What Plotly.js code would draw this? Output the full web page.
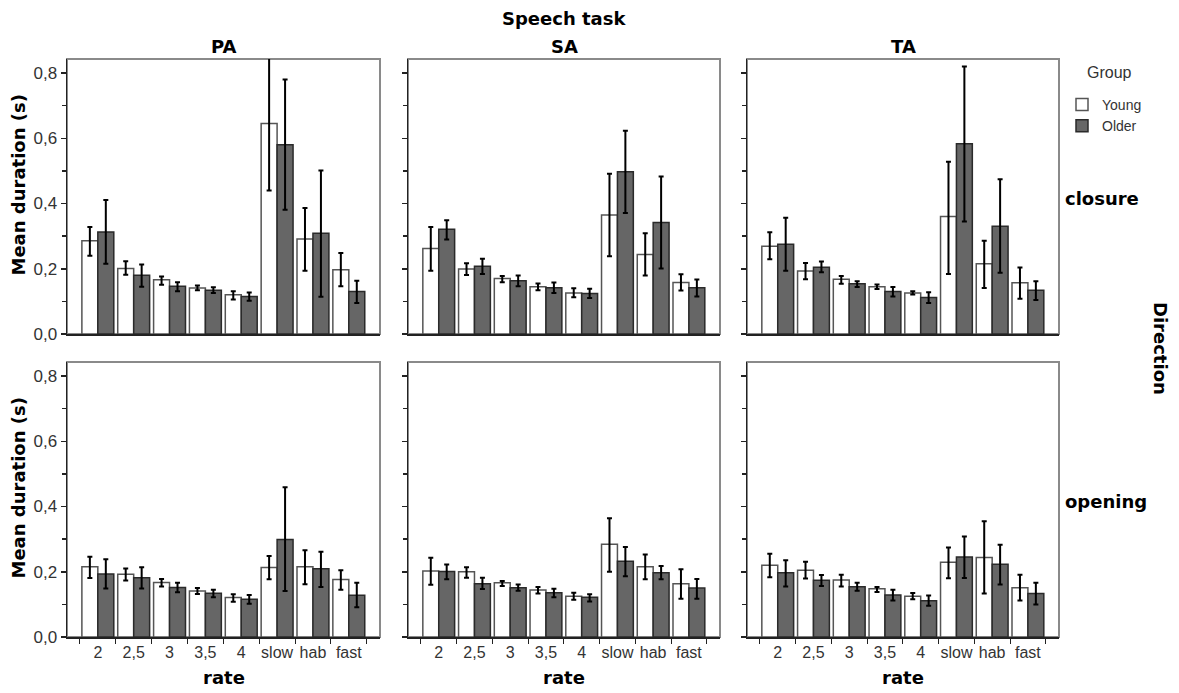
<!DOCTYPE html>
<html>
<head>
<meta charset="utf-8">
<script src="https://cdn.plot.ly/plotly-3.0.1.min.js"></script>
<style>html,body{margin:0;padding:0;background:#fff;}#chart{width:1179px;height:693px;}</style>
</head>
<body>
<div id="chart"></div>
<script>
const rates = ['2', '2,5', '3', '3,5', '4', 'slow', 'hab', 'fast'];
const tasks = ['PA', 'SA', 'TA'];
const directions = ['closure', 'opening'];
const groups = ['Young', 'Older'];

// closure
const PA_closure_young_mean = [0.286, 0.201, 0.166, 0.141, 0.120, 0.645, 0.291, 0.197];
const PA_closure_young_lo   = [0.240, 0.182, 0.151, 0.134, 0.106, 0.440, 0.194, 0.146];
const PA_closure_young_hi   = [0.328, 0.223, 0.176, 0.149, 0.131, 0.850, 0.386, 0.248];
const PA_closure_older_mean = [0.313, 0.180, 0.146, 0.134, 0.115, 0.580, 0.309, 0.130];
const PA_closure_older_lo   = [0.215, 0.145, 0.131, 0.126, 0.102, 0.381, 0.114, 0.095];
const PA_closure_older_hi   = [0.411, 0.213, 0.159, 0.143, 0.127, 0.780, 0.501, 0.163];

const SA_closure_young_mean = [0.262, 0.199, 0.170, 0.145, 0.126, 0.365, 0.244, 0.158];
const SA_closure_young_lo   = [0.194, 0.181, 0.159, 0.134, 0.113, 0.238, 0.179, 0.133];
const SA_closure_young_hi   = [0.328, 0.217, 0.178, 0.155, 0.140, 0.491, 0.309, 0.183];
const SA_closure_older_mean = [0.321, 0.208, 0.163, 0.142, 0.124, 0.497, 0.342, 0.142];
const SA_closure_older_lo   = [0.290, 0.184, 0.146, 0.126, 0.110, 0.371, 0.201, 0.115];
const SA_closure_older_hi   = [0.349, 0.231, 0.179, 0.158, 0.139, 0.623, 0.483, 0.167];

const TA_closure_young_mean = [0.269, 0.193, 0.168, 0.145, 0.126, 0.360, 0.215, 0.157];
const TA_closure_young_lo   = [0.229, 0.168, 0.154, 0.138, 0.121, 0.184, 0.141, 0.108];
const TA_closure_young_hi   = [0.312, 0.218, 0.178, 0.152, 0.131, 0.528, 0.286, 0.204];
const TA_closure_older_mean = [0.275, 0.205, 0.154, 0.130, 0.112, 0.583, 0.330, 0.134];
const TA_closure_older_lo   = [0.194, 0.189, 0.144, 0.115, 0.095, 0.345, 0.188, 0.104];
const TA_closure_older_hi   = [0.356, 0.222, 0.162, 0.144, 0.128, 0.820, 0.474, 0.162];

// opening
const PA_opening_young_mean = [0.215, 0.192, 0.167, 0.141, 0.121, 0.213, 0.215, 0.176];
const PA_opening_young_lo   = [0.181, 0.173, 0.155, 0.132, 0.108, 0.177, 0.162, 0.145];
const PA_opening_young_hi   = [0.246, 0.210, 0.178, 0.150, 0.131, 0.248, 0.266, 0.205];
const PA_opening_older_mean = [0.193, 0.182, 0.152, 0.134, 0.116, 0.299, 0.209, 0.128];
const PA_opening_older_lo   = [0.149, 0.149, 0.137, 0.122, 0.102, 0.141, 0.153, 0.091];
const PA_opening_older_hi   = [0.238, 0.214, 0.166, 0.145, 0.129, 0.459, 0.261, 0.166];

const SA_opening_young_mean = [0.202, 0.200, 0.166, 0.144, 0.125, 0.284, 0.215, 0.163];
const SA_opening_young_lo   = [0.160, 0.182, 0.156, 0.133, 0.114, 0.200, 0.177, 0.117];
const SA_opening_young_hi   = [0.243, 0.214, 0.172, 0.153, 0.136, 0.364, 0.253, 0.208];
const SA_opening_older_mean = [0.201, 0.163, 0.151, 0.136, 0.122, 0.232, 0.197, 0.150];
const SA_opening_older_lo   = [0.177, 0.147, 0.142, 0.122, 0.109, 0.186, 0.177, 0.117];
const SA_opening_older_hi   = [0.222, 0.182, 0.161, 0.148, 0.131, 0.276, 0.218, 0.178];

const TA_opening_young_mean = [0.220, 0.205, 0.175, 0.148, 0.125, 0.229, 0.244, 0.151];
const TA_opening_young_lo   = [0.183, 0.179, 0.155, 0.138, 0.116, 0.180, 0.133, 0.112];
const TA_opening_young_hi   = [0.255, 0.231, 0.191, 0.153, 0.135, 0.274, 0.355, 0.191];
const TA_opening_older_mean = [0.197, 0.174, 0.154, 0.129, 0.111, 0.245, 0.223, 0.133];
const TA_opening_older_lo   = [0.155, 0.156, 0.142, 0.112, 0.096, 0.181, 0.161, 0.100];
const TA_opening_older_hi   = [0.235, 0.190, 0.166, 0.145, 0.127, 0.308, 0.283, 0.166];

const series = {
  PA_closure: [[PA_closure_young_mean, PA_closure_young_lo, PA_closure_young_hi], [PA_closure_older_mean, PA_closure_older_lo, PA_closure_older_hi]],
  SA_closure: [[SA_closure_young_mean, SA_closure_young_lo, SA_closure_young_hi], [SA_closure_older_mean, SA_closure_older_lo, SA_closure_older_hi]],
  TA_closure: [[TA_closure_young_mean, TA_closure_young_lo, TA_closure_young_hi], [TA_closure_older_mean, TA_closure_older_lo, TA_closure_older_hi]],
  PA_opening: [[PA_opening_young_mean, PA_opening_young_lo, PA_opening_young_hi], [PA_opening_older_mean, PA_opening_older_lo, PA_opening_older_hi]],
  SA_opening: [[SA_opening_young_mean, SA_opening_young_lo, SA_opening_young_hi], [SA_opening_older_mean, SA_opening_older_lo, SA_opening_older_hi]],
  TA_opening: [[TA_opening_young_mean, TA_opening_young_lo, TA_opening_young_hi], [TA_opening_older_mean, TA_opening_older_lo, TA_opening_older_hi]]
};

const W = 1179, H = 693;
const colPx = [[67, 380], [408, 720], [747, 1059]];
const rowPx = [[59, 334], [362, 637]];
const styles = [
  {fill: '#ffffff', line: '#555555'},
  {fill: '#666666', line: '#2a2a2a'}
];

const traces = [];
const regFont = 'Liberation Sans, Arial, sans-serif';
const layout = {
  width: W, height: H,
  margin: {l: 0, r: 0, t: 0, b: 0},
  paper_bgcolor: '#fff', plot_bgcolor: '#fff',
  separators: ', ',
  barmode: 'group', bargap: 0.11, bargroupgap: 0,
  showlegend: true,
  legend: {
    x: 1062 / W, y: 1 - 89 / H, xanchor: 'left', yanchor: 'top',
    bgcolor: 'rgba(0,0,0,0)',
    font: {family: regFont, size: 14, color: '#333'},
    tracegroupgap: 0, itemwidth: 30
  },
  shapes: [], annotations: [],
  font: {family: regFont, color: '#333'}
};

const boldFont = {family: 'DejaVu Sans, sans-serif', size: 18, color: '#000', weight: 'bold'};

directions.forEach((dir, r) => {
  tasks.forEach((task, c) => {
    const idx = r * 3 + c + 1;
    const xa = idx === 1 ? 'x' : 'x' + idx;
    const ya = idx === 1 ? 'y' : 'y' + idx;
    const key = task + '_' + dir;
    groups.forEach((g, gi) => {
      const [m, lo, hi] = series[key][gi];
      traces.push({
        type: 'bar', name: g, x: rates, y: m,
        xaxis: xa, yaxis: ya,
        legendgroup: g, showlegend: idx === 1,
        marker: {color: styles[gi].fill, line: {color: styles[gi].line, width: 1.5}},
        error_y: {
          type: 'data', symmetric: false,
          array: hi.map((v, i) => v - m[i]),
          arrayminus: m.map((v, i) => v - lo[i]),
          color: '#000', thickness: 2, width: 2.5
        },
        hoverinfo: 'skip'
      });
    });
    const xKey = idx === 1 ? 'xaxis' : 'xaxis' + idx;
    const yKey = idx === 1 ? 'yaxis' : 'yaxis' + idx;
    layout[xKey] = {
      domain: [colPx[c][0] / W, colPx[c][1] / W],
      anchor: ya, type: 'category', range: [-0.86, 7.87],
      showline: true, linecolor: '#222', linewidth: 1.5, mirror: false,
      showgrid: false, zeroline: false,
      ticks: r === 1 ? 'outside' : '', tickson: 'boundaries', ticklen: 5, tickcolor: '#222', tickwidth: 1,
      showticklabels: r === 1, tickangle: 0,
      tickfont: {family: regFont, size: 16, color: '#333'},
      fixedrange: true
    };
    layout[yKey] = {
      domain: [1 - rowPx[r][1] / H, 1 - rowPx[r][0] / H],
      anchor: xa, range: [0, 0.843],
      showline: true, linecolor: '#222', linewidth: 1.5, mirror: false,
      showgrid: false, zeroline: false,
      ticks: 'outside', ticklen: 5, tickcolor: '#222', tickwidth: 1.5,
      dtick: 0.2, tick0: 0, tickformat: '.1f',
      minor: {dtick: 0.1, ticks: 'outside', ticklen: 4, tickcolor: '#222', tickwidth: 1.5, showgrid: false},
      showticklabels: c === 0,
      tickfont: {family: regFont, size: 17, color: '#333'},
      fixedrange: true
    };
    layout.shapes.push({
      type: 'rect', xref: xa + ' domain', yref: ya + ' domain',
      x0: 0, x1: 1, y0: 0, y1: 1, layer: 'below',
      line: {color: '#8a8a8a', width: 2}, fillcolor: 'rgba(0,0,0,0)'
    });
    if (r === 0) {
      layout.annotations.push({
        text: task, xref: 'paper', yref: 'paper',
        x: (colPx[c][0] + colPx[c][1]) / 2 / W, y: 1 - 47 / H,
        xanchor: 'center', yanchor: 'middle', showarrow: false, font: boldFont
      });
    }
    if (r === 1) {
      layout.annotations.push({
        text: 'rate', xref: 'paper', yref: 'paper',
        x: (colPx[c][0] + colPx[c][1]) / 2 / W, y: 1 - 677 / H,
        xanchor: 'center', yanchor: 'middle', showarrow: false, font: boldFont
      });
    }
    if (c === 0) {
      layout.annotations.push({
        text: 'Mean duration (s)', xref: 'paper', yref: 'paper',
        x: 18 / W, y: 1 - ((rowPx[r][0] + rowPx[r][1]) / 2 - 11) / H,
        xanchor: 'center', yanchor: 'middle', textangle: -90, showarrow: false, font: boldFont
      });
    }
  });
  layout.annotations.push({
    text: dir, xref: 'paper', yref: 'paper',
    x: 1063 / W, y: 1 - ((rowPx[r][0] + rowPx[r][1]) / 2 + 2) / H,
    xanchor: 'left', yanchor: 'middle', showarrow: false, font: boldFont
  });
});

layout.annotations.push({
  text: 'Group', xref: 'paper', yref: 'paper',
  x: 1109 / W, y: 1 - 73 / H, xanchor: 'center', yanchor: 'middle', showarrow: false,
  font: {family: regFont, size: 16, color: '#333'}
});
layout.annotations.push({
  text: 'Speech task', xref: 'paper', yref: 'paper',
  x: 564 / W, y: 1 - 18 / H, xanchor: 'center', yanchor: 'middle', showarrow: false, font: boldFont
});
layout.annotations.push({
  text: 'Direction', xref: 'paper', yref: 'paper',
  x: 1161 / W, y: 1 - 348 / H, xanchor: 'center', yanchor: 'middle', textangle: 90, showarrow: false, font: boldFont
});

Plotly.newPlot('chart', traces, layout, {displayModeBar: false, staticPlot: true});
</script>
</body>
</html>
